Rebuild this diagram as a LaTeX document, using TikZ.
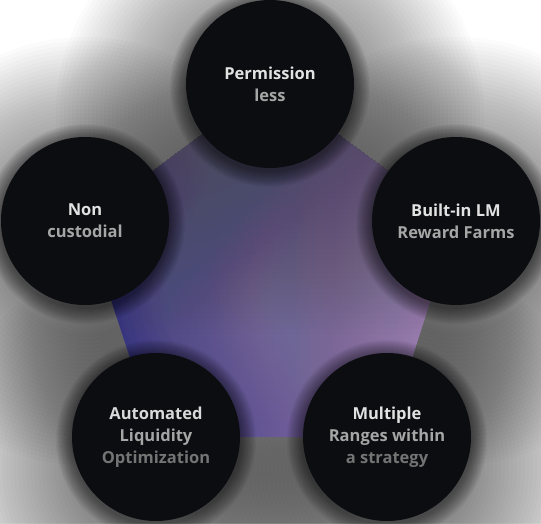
\documentclass[tikz,border=0pt]{standalone}
\usepackage{fontspec}
\setmainfont{Open Sans}

\definecolor{disc}{HTML}{0C0D11}
\definecolor{pentblue}{HTML}{2C2C7A}
\definecolor{pentpink}{HTML}{A283B0}
\definecolor{penttop}{HTML}{4A4A54}
\definecolor{pentmid}{HTML}{8A8296}
\definecolor{txtA}{HTML}{E2E2E2}
\definecolor{txtB}{HTML}{A6A6A6}
\definecolor{txtC}{HTML}{747474}

\begin{document}
\begin{tikzpicture}[x=1pt,y=-1pt,
  bubble/.style={circle, fill=disc, minimum size=168pt, inner sep=0pt,
    align=center, font=\fontsize{16.5}{22}\selectfont\bfseries}]
\useasboundingbox (0,0) rectangle (541,523);
\fill[white] (0,0) rectangle (541,523);

\coordinate (cperm) at (270,84);
\coordinate (cnon) at (85,221);
\coordinate (clm) at (456,221);
\coordinate (cauto) at (156,437);
\coordinate (crange) at (387,437);

% soft shadows
\foreach \c in {cperm,cnon,clm,cauto,crange}
  \foreach \r in {86,90,...,214}
    \fill[black, opacity=0.016] ([yshift=-30pt]\c) circle (\r pt);

% pentagon
\shade[left color=pentblue, right color=pentpink]
  (cperm) -- (clm) -- (crange) -- (cauto) -- (cnon) -- cycle;
\begin{scope}
  \clip (cperm) -- (clm) -- (crange) -- (cauto) -- (cnon) -- cycle;
  \foreach \r in {10,20,...,150}
    \fill[pentmid, opacity=0.035] (270,300) ellipse (\r pt and 0.8*\r pt);
  \foreach \i in {1,...,50}
    \fill[penttop, opacity=0.025] (0,84) rectangle (541,84+\i*5);
\end{scope}

% dark rims
\foreach \c in {cperm,cnon,clm,cauto,crange}
  \foreach \r in {85,86,...,100}
    \fill[black, opacity=0.035] ([yshift=-3pt]\c) circle (\r pt);

\node[bubble] (perm) at (cperm) {\textcolor{txtA}{Permission}\\\textcolor{txtB}{less}};
\node[bubble] (non) at (cnon) {\textcolor{txtA}{Non}\\\textcolor{txtB}{custodial}};
\node[bubble] (lm) at (clm) {\textcolor{txtA}{Built-in LM}\\\textcolor{txtB}{Reward Farms}};
\node[bubble] (auto) at (cauto) {\textcolor{txtA!85!txtB}{Automated}\\\textcolor{txtB}{Liquidity}\\\textcolor{txtC}{Optimization}};
\node[bubble] (range) at (crange) {\textcolor{txtA}{Multiple}\\\textcolor{txtB}{Ranges within}\\\textcolor{txtC}{a strategy}};
\end{tikzpicture}
\end{document}
